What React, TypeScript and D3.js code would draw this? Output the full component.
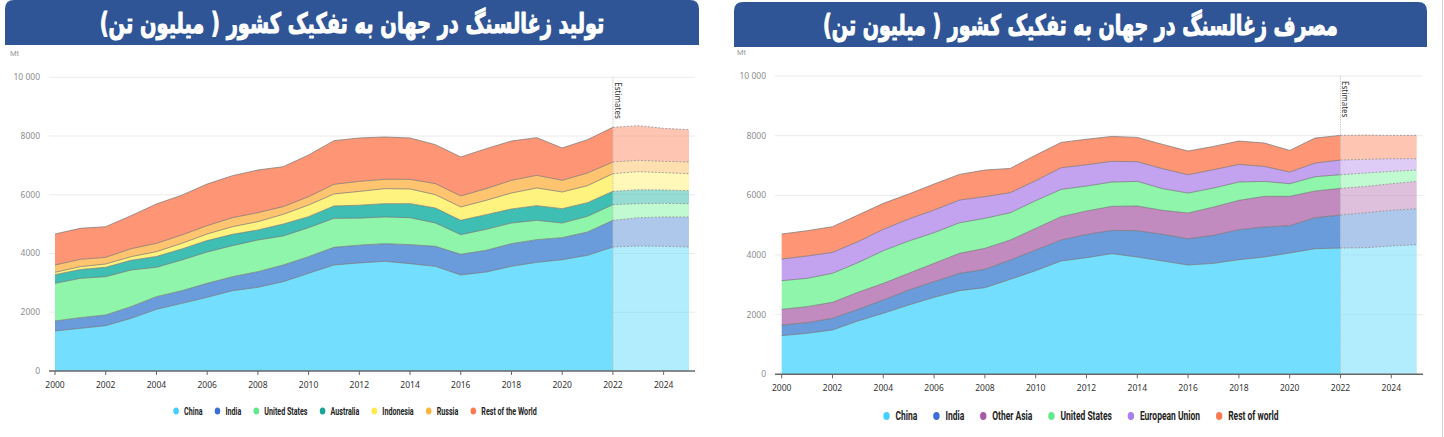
import React, { useEffect, useRef } from 'react';
import * as d3 from 'd3';

// ---------- DATA ----------
const years = [2000, 2001, 2002, 2003, 2004, 2005, 2006, 2007, 2008, 2009, 2010, 2011, 2012, 2013, 2014, 2015, 2016, 2017, 2018, 2019, 2020, 2021, 2022, 2023, 2024, 2025];
const xTickYears = [2000, 2002, 2004, 2006, 2008, 2010, 2012, 2014, 2016, 2018, 2020, 2022, 2024];
const yTickValues = [0, 2000, 4000, 6000, 8000, 10000];
const yTickLabels = ['0', '2000', '4000', '6000', '8000', '10 000'];
const estimateStart = 2022;

// Production (Mt)
const prodKeys = ['China', 'India', 'United States', 'Australia', 'Indonesia', 'Russia', 'Rest of the World'];
const prodChina = [1362, 1453, 1544, 1793, 2100, 2304, 2508, 2735, 2849, 3042, 3326, 3609, 3680, 3734, 3655, 3564, 3269, 3371, 3564, 3700, 3791, 3938, 4222, 4256, 4245, 4222];
const prodIndia = [341, 363, 363, 398, 431, 431, 477, 477, 533, 567, 567, 602, 605, 602, 647, 681, 704, 738, 772, 772, 749, 795, 908, 965, 999, 1022];
const prodUS = [1282, 1339, 1305, 1248, 999, 1045, 1067, 1056, 1079, 988, 987, 987, 920, 908, 919, 794, 669, 715, 703, 658, 499, 533, 534, 477, 465, 454];
const prodAustralia = [295, 300, 320, 330, 370, 375, 390, 385, 340, 408, 375, 420, 440, 454, 477, 511, 488, 499, 477, 500, 488, 466, 454, 476, 454, 442];
const prodIndonesia = [80, 97, 111, 124, 163, 192, 223, 262, 284, 330, 397, 409, 470, 510, 499, 454, 454, 488, 545, 601, 568, 579, 601, 613, 590, 579];
const prodRussia = [249, 250, 227, 270, 284, 284, 284, 306, 306, 261, 284, 329, 343, 318, 329, 375, 375, 397, 431, 431, 397, 431, 397, 386, 386, 397];
const prodRest = [1056, 1056, 1045, 1126, 1339, 1357, 1418, 1430, 1453, 1362, 1419, 1487, 1476, 1442, 1408, 1328, 1328, 1362, 1340, 1283, 1101, 1135, 1181, 1181, 1124, 1101];
const prodFill = ['#73DEFD', '#6A9BDB', '#8EF5AB', '#3FBFB3', '#FFF37F', '#FEC470', '#FE9574'];
const prodDot = ['#45CFFF', '#3C6FD6', '#5FE98C', '#17A596', '#FFEA4A', '#FFB43E', '#FF7A52'];

// Consumption (Mt)
const consKeys = ['China', 'India', 'Other Asia', 'United States', 'European Union', 'Rest of world'];
const consChina = [1296, 1374, 1486, 1787, 2044, 2323, 2580, 2804, 2904, 3183, 3474, 3798, 3910, 4044, 3932, 3798, 3664, 3720, 3842, 3932, 4066, 4211, 4233, 4245, 4300, 4345];
const consIndia = [357, 357, 391, 391, 447, 503, 525, 581, 615, 648, 692, 704, 780, 781, 882, 893, 882, 938, 1006, 1005, 916, 1039, 1106, 1172, 1196, 1206];
const consOtherAsia = [525, 537, 536, 570, 558, 559, 615, 670, 703, 671, 726, 781, 785, 805, 827, 805, 860, 949, 983, 1028, 983, 894, 894, 883, 893, 916];
const consUS = [961, 949, 972, 994, 1095, 1083, 1027, 1027, 1006, 915, 928, 916, 835, 815, 826, 726, 670, 637, 614, 502, 424, 480, 458, 447, 414, 380];
const consEU = [726, 748, 703, 704, 715, 737, 760, 760, 726, 671, 670, 726, 715, 693, 659, 670, 615, 614, 592, 503, 391, 458, 491, 458, 424, 380];
const consRest = [838, 849, 860, 893, 871, 838, 871, 860, 893, 815, 860, 849, 855, 837, 816, 815, 793, 782, 782, 782, 726, 838, 827, 815, 782, 782];
const consFill = ['#73DEFD', '#6A9BDB', '#C28BC0', '#8EF5AB', '#C3A2F0', '#FE9574'];
const consDot = ['#45CFFF', '#3C6FD6', '#A65BAA', '#5FE98C', '#A77FF0', '#FF7A52'];

const prodTitle = 'تولید زغالسنگ در جهان به تفکیک کشور ( میلیون تن)';
const consTitle = 'مصرف زغالسنگ در جهان به تفکیک کشور ( میلیون تن)';

// ---------- LAYOUT ----------
const panels = [
  {
    title: prodTitle, keys: prodKeys, values: [prodChina, prodIndia, prodUS, prodAustralia, prodIndonesia, prodRussia, prodRest],
    fills: prodFill, dots: prodDot,
    banner: { x0: 5, x1: 699, y0: 0, y1: 45 }, titleW: 505, titleY: 33,
    x0: 55, x1: 689, gridL: 49, gridR: 695, yBottom: 371, yTop: 77.3,
    labelRight: 40, mtX: 10, mtY: 56, xLabelY: 385, legendY: 411, legendCx: 355,
    legendFont: 10.5, legendGap: 15, dotRx: 2.8, dotRy: 3.5, dotPad: 8,
  },
  {
    title: consTitle, keys: consKeys, values: [consChina, consIndia, consOtherAsia, consUS, consEU, consRest],
    fills: consFill, dots: consDot,
    banner: { x0: 734, x1: 1427, y0: 2, y1: 47 }, titleW: 515, titleY: 35,
    x0: 781.7, x1: 1416.7, gridL: 775, gridR: 1423, yBottom: 374.3, yTop: 76,
    labelRight: 766, mtX: 737, mtY: 55, xLabelY: 388, legendY: 416, legendCx: 1081,
    legendFont: 12.5, legendGap: 19, dotRx: 3.2, dotRy: 4, dotPad: 9,
  },
];

function drawPanel(svg: any, p: any) {
  const g = svg.append('g');
  // banner
  const b = p.banner, r = 9;
  g.append('path')
    .attr('d', `M${b.x0},${b.y1} L${b.x0},${b.y0 + r} Q${b.x0},${b.y0} ${b.x0 + r},${b.y0} L${b.x1 - r},${b.y0} Q${b.x1},${b.y0} ${b.x1},${b.y0 + r} L${b.x1},${b.y1} Z`)
    .attr('fill', '#2F5597');
  const cx = (b.x0 + b.x1) / 2;
  const tt = g.append('text')
    .attr('font-family', "'DejaVu Sans', sans-serif")
    .attr('font-weight', 'bold')
    .attr('font-size', 28)
    .attr('fill', '#ffffff')
    .attr('stroke', '#ffffff')
    .attr('stroke-width', 1.1)
    .attr('stroke-linejoin', 'round')
    .attr('text-anchor', 'middle')
    .attr('direction', 'rtl')
    .text(p.title);
  const tw = (tt.node() as SVGTextElement).getComputedTextLength();
  const sx = tw > 0 ? p.titleW / tw : 1;
  tt.attr('transform', `translate(${cx},${p.titleY}) scale(${sx},1)`);

  const x = d3.scaleLinear().domain([2000, 2025]).range([p.x0, p.x1]);
  const y = d3.scaleLinear().domain([0, 10000]).range([p.yBottom, p.yTop]);

  // Mt
  g.append('text').attr('x', p.mtX).attr('y', p.mtY).attr('font-family', 'Roboto, sans-serif')
    .attr('font-size', 7.5).attr('fill', '#9a9a9a').text('Mt');

  // grid
  yTickValues.forEach((v, i) => {
    if (v > 0) {
      g.append('line').attr('x1', p.gridL).attr('x2', p.gridR).attr('y1', y(v)).attr('y2', y(v))
        .attr('stroke', '#ebebeb').attr('stroke-width', 1);
    }
    g.append('text').attr('x', p.labelRight).attr('y', y(v)).attr('dy', '0.35em')
      .attr('text-anchor', 'end').attr('font-family', "'Noto Sans', sans-serif")
      .attr('font-size', 8.5).attr('fill', '#8d8d8d').text(yTickLabels[i]);
  });

  // stack
  const rows = years.map((yr, i) => {
    const o: any = { year: yr };
    p.keys.forEach((k: string, j: number) => { o[k] = p.values[j][i]; });
    return o;
  });
  const series = d3.stack().keys(p.keys)(rows);
  const area = d3.area<any>().x((d) => x(d.data.year)).y0((d) => y(d[0])).y1((d) => y(d[1]));
  const line = d3.line<any>().x((d) => x(d.data.year)).y((d) => y(d[1]));

  series.forEach((s: any, j: number) => {
    const actual = s.filter((d: any) => d.data.year <= estimateStart);
    const est = s.filter((d: any) => d.data.year >= estimateStart);
    g.append('path').attr('d', area(actual)).attr('fill', p.fills[j]);
    g.append('path').attr('d', area(est)).attr('fill', p.fills[j]).attr('fill-opacity', 0.55);
  });
  series.forEach((s: any) => {
    const actual = s.filter((d: any) => d.data.year <= estimateStart);
    const est = s.filter((d: any) => d.data.year >= estimateStart);
    g.append('path').attr('d', line(actual)).attr('fill', 'none').attr('stroke', '#6f6f6f')
      .attr('stroke-width', 0.8).attr('stroke-opacity', 0.85);
    g.append('path').attr('d', line(est)).attr('fill', 'none').attr('stroke', '#8f8f8f')
      .attr('stroke-width', 0.8).attr('stroke-dasharray', '2,1.5');
  });

  // estimates marker
  const ex = x(estimateStart);
  g.append('line').attr('x1', ex).attr('x2', ex).attr('y1', p.yTop).attr('y2', p.yBottom)
    .attr('stroke', '#b5b5b5').attr('stroke-width', 0.8).attr('stroke-dasharray', '1.2,1.2');
  g.append('text').attr('transform', `translate(${ex + 1.8},${p.yTop + 5}) rotate(90)`)
    .attr('font-family', "'Noto Sans', sans-serif").attr('font-size', 8).attr('fill', '#333')
    .text('Estimates');

  // axis
  g.append('line').attr('x1', p.gridL).attr('x2', p.gridR).attr('y1', p.yBottom).attr('y2', p.yBottom)
    .attr('stroke', '#666').attr('stroke-width', 1.5);
  xTickYears.forEach((yr) => {
    g.append('line').attr('x1', x(yr)).attr('x2', x(yr)).attr('y1', p.yBottom).attr('y2', p.yBottom + 4)
      .attr('stroke', '#666').attr('stroke-width', 1);
    g.append('text').attr('x', x(yr)).attr('y', p.xLabelY).attr('dy', '0.35em').attr('text-anchor', 'middle')
      .attr('font-family', "'Noto Sans', sans-serif").attr('font-size', 8.5).attr('fill', '#333').text(String(yr));
  });

  // legend
  const lg = g.append('g');
  const items: any[] = [];
  const squeeze = 0.68;
  p.keys.forEach((k: string, j: number) => {
    const it = lg.append('g');
    it.append('ellipse').attr('cx', 0).attr('cy', 0).attr('rx', p.dotRx).attr('ry', p.dotRy).attr('fill', p.dots[j]);
    const t = it.append('text').attr('y', 0).attr('dy', '0.35em')
      .attr('font-family', "Roboto, 'DejaVu Sans', sans-serif")
      .attr('font-weight', 'bold').attr('font-size', p.legendFont).attr('fill', '#222').text(k);
    const w = (t.node() as SVGTextElement).getComputedTextLength() * squeeze;
    t.attr('transform', `translate(${p.dotPad},0) scale(${squeeze},1)`);
    items.push({ it, w: p.dotPad + w });
  });
  const gap = p.legendGap;
  const total = items.reduce((a, b) => a + b.w, 0) + gap * (items.length - 1) + p.dotRx;
  let cur = p.legendCx - total / 2 + p.dotRx;
  items.forEach((o) => {
    o.it.attr('transform', `translate(${cur},${p.legendY})`);
    cur += o.w + gap;
  });
}

export default function App() {
  const ref = useRef<SVGSVGElement | null>(null);
  useEffect(() => {
    document.body.style.margin = '0';
    const svg = d3.select(ref.current);
    svg.selectAll('*').remove();
    svg.append('rect').attr('x', 0).attr('y', 0).attr('width', 1444).attr('height', 437).attr('fill', '#fff');
    panels.forEach((p) => drawPanel(svg, p));
    svg.append('line').attr('x1', 1442.5).attr('x2', 1442.5).attr('y1', 0).attr('y2', 437)
      .attr('stroke', '#d0d0d0').attr('stroke-width', 1);
  }, []);
  return <svg ref={ref} width={1444} height={437} style={{ display: 'block' }} />;
}
